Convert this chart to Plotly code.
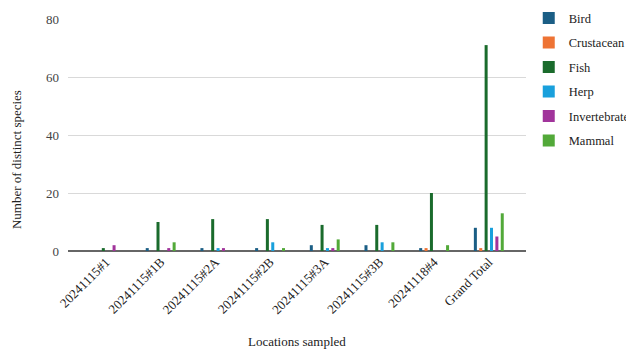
import plotly.graph_objects as go

categories = ["20241115#1", "20241115#1B", "20241115#2A", "20241115#2B",
              "20241115#3A", "20241115#3B", "20241118#4", "Grand Total"]
bird = [0, 1, 1, 1, 2, 2, 1, 8]
crustacean = [0, 0, 0, 0, 0, 0, 1, 1]
fish = [1, 10, 11, 11, 9, 9, 20, 71]
herp = [0, 0, 1, 3, 1, 3, 0, 8]
invertebrate = [2, 1, 1, 0, 1, 0, 0, 5]
mammal = [0, 3, 0, 1, 4, 3, 2, 13]
y_ticks = [0, 20, 40, 60, 80]

series = [
    ("Bird", bird, "#1b5e85"),
    ("Crustacean", crustacean, "#ee7334"),
    ("Fish", fish, "#1a6b2c"),
    ("Herp", herp, "#19a0dc"),
    ("Invertebrate", invertebrate, "#a1349b"),
    ("Mammal", mammal, "#52a939"),
]

font = "Liberation Serif, Times New Roman, serif"
fig = go.Figure()
for name, vals, color in series:
    fig.add_trace(go.Bar(name=name, x=categories, y=vals, marker_color=color,
                         marker_line_width=0, legendgroup=name))

# page body has an 8px margin, so the figure is 626x342 placed at (8, 8)
fig.update_layout(
    width=626, height=342,
    margin=dict(l=60, r=108, t=11, b=99, autoexpand=False),
    plot_bgcolor="white", paper_bgcolor="white",
    barmode="group", bargap=0.41, bargroupgap=0.44,
    font=dict(family=font, size=13, color="#222"),
    legend=dict(x=1.006, y=1.067, xanchor="left", yanchor="top",
                font=dict(family=font, size=12.5, color="#222"),
                tracegroupgap=5.25, itemwidth=30),
    xaxis=dict(range=[-0.695, 7.68], tickangle=-45, showgrid=False, automargin=False,
               ticks="", tickfont=dict(family=font, size=13, color="#222")),
    yaxis=dict(range=[0, 80], tickvals=y_ticks, showgrid=True, gridcolor="#d9d9d9",
               gridwidth=1, zeroline=True, zerolinecolor="#666", zerolinewidth=1.5,
               ticks="", ticklabelstandoff=8, automargin=False,
               tickfont=dict(family=font, size=13, color="#444")),
    annotations=[
        dict(text="Locations sampled", xref="paper", yref="paper", x=0.5, y=-0.392,
             xanchor="center", yanchor="middle", showarrow=False,
             font=dict(family=font, size=13, color="#222")),
        dict(text="Number of distinct species", xref="paper", yref="paper",
             x=-0.1135, y=0.392, xanchor="center", yanchor="middle", textangle=-90,
             showarrow=False, font=dict(family=font, size=13, color="#222")),
    ],
)
fig.write_html("out.html")
